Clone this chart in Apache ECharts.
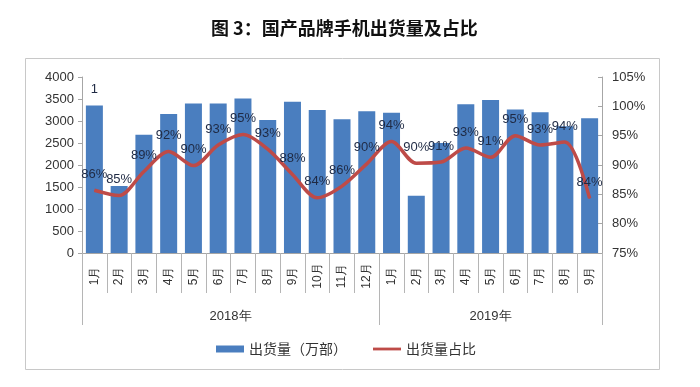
<!DOCTYPE html>
<html>
<head>
<meta charset="utf-8">
<script src="https://cdn.jsdelivr.net/npm/echarts@6/dist/echarts.min.js"></script>
<style>html,body{margin:0;padding:0;background:#fff;}#c{width:700px;height:387px;}</style>
</head>
<body>
<div id="c"></div>
<script>
var months = ['1月','2月','3月','4月','5月','6月','7月','8月','9月','10月','11月','12月',
              '1月','2月','3月','4月','5月','6月','7月','8月','9月'];
var years = ['2018年','2019年'];
var yearMonthCounts = [12, 9];
var shipments = [3350,1520,2690,3160,3400,3400,3510,3020,3440,3250,3040,3220,
                 3190,1300,2500,3380,3480,3260,3200,2880,3060];
var share = [85.7,84.8,88.9,92.3,89.9,93.4,95.2,92.7,88.4,84.4,86.4,90.2,
             94.0,90.3,90.5,92.9,91.3,95.0,93.4,93.9,84.3];
var firstBarNote = '1';
var leftTicks = {min:0, max:4000, interval:500};
var rightTicks = {min:75, max:105, interval:5};

var boundaries = [0];
var centers = [];
yearMonthCounts.forEach(function(n){
  var s = boundaries[boundaries.length-1];
  centers.push(s + n/2);
  boundaries.push(s + n);
});
var total = boundaries[boundaries.length-1];

var barData = shipments.map(function(v,i){
  if(i===0){
    return {value:v, label:{show:true, position:'top', distance:10, formatter:firstBarNote,
      color:'#1f2a44', fontSize:13, fontFamily:'Liberation Sans'}};
  }
  return v;
});

var chart = echarts.init(document.getElementById('c'));
chart.setOption({
  animation:false,
  backgroundColor:'#fff',
  title:{text:'图 3：国产品牌手机出货量及占比', left:206, top:14,
    textStyle:{fontSize:18, fontWeight:'bold', color:'#111', fontFamily:'Noto Sans CJK SC'}},
  graphic:[{type:'rect', shape:{x:25.5,y:58.5,width:634,height:311},
    style:{fill:null, stroke:'#c8c8c8', lineWidth:1}, silent:true, z:-1}],
  legend:{left:211, top:337, itemGap:26, itemWidth:28, itemHeight:7,
    textStyle:{fontSize:14, color:'#333', fontFamily:'Noto Sans CJK SC'},
    data:[{name:'出货量（万部）', icon:'rect'},
          {name:'出货量占比', icon:'path://M0,0H30V3H0Z', itemStyle:{color:'#be4b48'}}]},
  grid:{left:82, right:98, top:77, bottom:134},
  xAxis:[{
    type:'category', data:months, position:'bottom',
    axisLine:{lineStyle:{color:'#a6a6a6'}},
    axisTick:{show:true, interval:0, length:40, lineStyle:{color:'#b5b5b5'}},
    axisLabel:{interval:0, rotate:90, align:'center', margin:23, fontSize:12,
      color:'#333', fontFamily:'Liberation Sans'}
  },{
    type:'value', min:0, max:total, position:'bottom',
    axisLine:{show:false}, splitLine:{show:false},
    axisTick:{show:true, customValues:boundaries, length:72, lineStyle:{color:'#b5b5b5'}},
    axisLabel:{customValues:centers, margin:57, fontSize:13, color:'#333',
      fontFamily:'Liberation Sans',
      formatter:function(v){ var k = centers.indexOf(v); return k>=0 ? years[k] : ''; }}
  }],
  yAxis:[{
    type:'value', min:leftTicks.min, max:leftTicks.max, interval:leftTicks.interval,
    splitLine:{show:false},
    axisLine:{show:true, lineStyle:{color:'#a6a6a6'}},
    axisTick:{show:true, length:4, lineStyle:{color:'#a6a6a6'}},
    axisLabel:{fontSize:13, color:'#333', margin:8, fontFamily:'Liberation Sans',
      formatter:function(v){ return String(v); }}
  },{
    type:'value', min:rightTicks.min, max:rightTicks.max, interval:rightTicks.interval,
    position:'right', splitLine:{show:false},
    axisLine:{show:true, lineStyle:{color:'#a6a6a6'}},
    axisTick:{show:true, inside:true, length:4, lineStyle:{color:'#a6a6a6'}},
    axisLabel:{fontSize:13, color:'#333', margin:10, formatter:'{value}%', fontFamily:'Liberation Sans'}
  }],
  series:[{
    name:'出货量（万部）', type:'bar', data:barData, barWidth:17,
    itemStyle:{color:'#4a7ebf'}
  },{
    name:'出货量占比', type:'line', yAxisIndex:1, data:share, smooth:0.3,
    symbol:'circle', symbolSize:1, showSymbol:true,
    lineStyle:{color:'#be4b48', width:3.5},
    itemStyle:{color:'#be4b48'},
    labelLayout:{hideOverlap:false},
    label:{show:true, position:'top', distance:9, fontSize:13, color:'#1f2a44',
      fontFamily:'Liberation Sans',
      formatter:function(p){ return Math.round(p.value)+'%'; }}
  }]
});
</script>
</body>
</html>
